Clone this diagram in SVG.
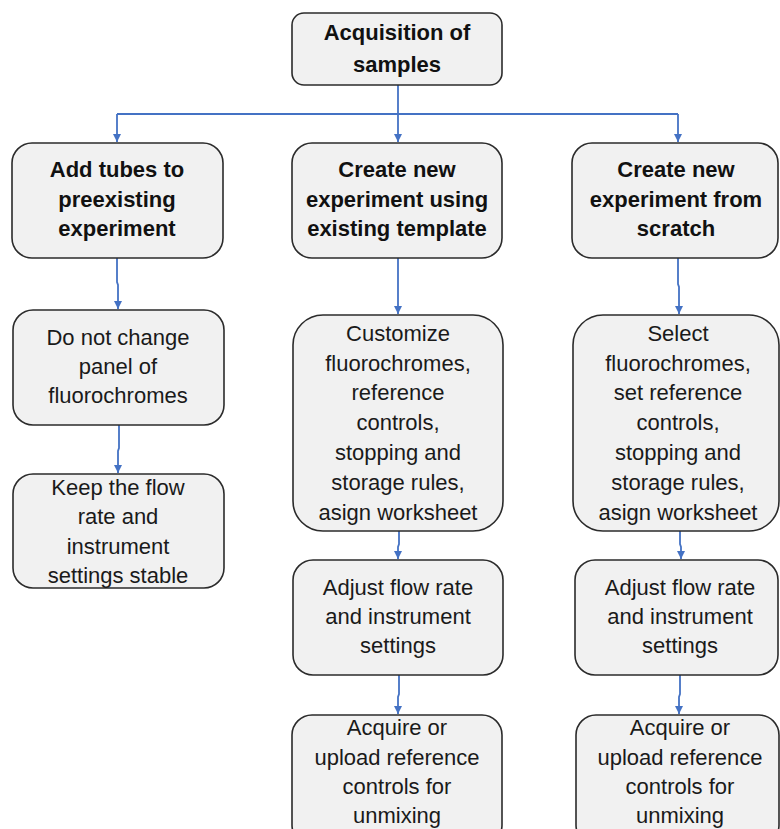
<svg xmlns="http://www.w3.org/2000/svg" width="780" height="829" viewBox="0 0 780 829">
<style>
.box{fill:#f1f1f1;stroke:#2b2b2b;stroke-width:1.6}
.t{font-family:"Liberation Sans",Arial,sans-serif;font-size:22px;fill:#1a1a1a;text-anchor:middle}
.b{font-weight:bold;fill:#111}
.c{fill:none;stroke:#4472C4;stroke-width:1.8}
</style>
<defs>
<marker id="ah" viewBox="0 0 10 10" refX="10" refY="5" markerWidth="8" markerHeight="8" markerUnits="userSpaceOnUse" orient="auto">
<path d="M0,0 L10,5 L0,10 z" fill="#4472C4"/>
</marker>
</defs>
<rect width="780" height="829" fill="#ffffff"/>

<g id="connectors">
<path class="c" d="M398,85 V114"/>
<path class="c" d="M117,114 H678"/>
<path class="c" d="M117,114 V142" marker-end="url(#ah)"/>
<path class="c" d="M398,114 V142" marker-end="url(#ah)"/>
<path class="c" d="M678,114 V142" marker-end="url(#ah)"/>
<path class="c" d="M117,258 V282 L118,285 V309" marker-end="url(#ah)"/>
<path class="c" d="M119,425 V448 L118,451 V473" marker-end="url(#ah)"/>
<path class="c" d="M398,258 V314" marker-end="url(#ah)"/>
<path class="c" d="M678,258 V284 L679,287 V314" marker-end="url(#ah)"/>
<path class="c" d="M399,531 V544 L398,547 V559" marker-end="url(#ah)"/>
<path class="c" d="M680,531 V544 L681,547 V559" marker-end="url(#ah)"/>
<path class="c" d="M399,675 V694 L398,697 V714" marker-end="url(#ah)"/>
<path class="c" d="M680,675 V694 L679,697 V714" marker-end="url(#ah)"/>
</g>

<g id="n-acquisition">
<rect class="box" x="292" y="13" width="210" height="72" rx="12"/>
<text class="t b" x="397" y="40" font-size="23">Acquisition of</text>
<text class="t b" x="397" y="72" font-size="23">samples</text>
</g>

<g id="n-add-tubes">
<rect class="box" x="12" y="143" width="211" height="115" rx="20"/>
<text class="t b" x="117" y="177">Add tubes to</text>
<text class="t b" x="117" y="207">preexisting</text>
<text class="t b" x="117" y="236">experiment</text>
</g>

<g id="n-template">
<rect class="box" x="292" y="143" width="210" height="115" rx="20"/>
<text class="t b" x="397" y="177">Create new</text>
<text class="t b" x="397" y="207">experiment using</text>
<text class="t b" x="397" y="236">existing template</text>
</g>

<g id="n-scratch">
<rect class="box" x="572" y="143" width="206" height="115" rx="20"/>
<text class="t b" x="676" y="177">Create new</text>
<text class="t b" x="676" y="207">experiment from</text>
<text class="t b" x="676" y="236">scratch</text>
</g>

<g id="n-do-not-change">
<rect class="box" x="13" y="310" width="211" height="115" rx="20"/>
<text class="t" x="118" y="345">Do not change</text>
<text class="t" x="118" y="374">panel of</text>
<text class="t" x="118" y="403">fluorochromes</text>
</g>

<g id="n-keep">
<rect class="box" x="13" y="474" width="211" height="114" rx="20"/>
<text class="t" x="118" y="495">Keep the flow</text>
<text class="t" x="118" y="524">rate and</text>
<text class="t" x="118" y="554">instrument</text>
<text class="t" x="118" y="583">settings stable</text>
</g>

<g id="n-customize">
<rect class="box" x="293" y="315" width="210" height="216" rx="30"/>
<text class="t" x="398" y="341">Customize</text>
<text class="t" x="398" y="371">fluorochromes,</text>
<text class="t" x="398" y="400">reference</text>
<text class="t" x="398" y="430">controls,</text>
<text class="t" x="398" y="460">stopping and</text>
<text class="t" x="398" y="490">storage rules,</text>
<text class="t" x="398" y="520">asign worksheet</text>
</g>

<g id="n-select">
<rect class="box" x="573" y="315" width="206" height="216" rx="30"/>
<text class="t" x="678" y="341">Select</text>
<text class="t" x="678" y="371">fluorochromes,</text>
<text class="t" x="678" y="400">set reference</text>
<text class="t" x="678" y="430">controls,</text>
<text class="t" x="678" y="460">stopping and</text>
<text class="t" x="678" y="490">storage rules,</text>
<text class="t" x="678" y="520">asign worksheet</text>
</g>

<g id="n-adjust-mid">
<rect class="box" x="293" y="560" width="210" height="115" rx="20"/>
<text class="t" x="398" y="595">Adjust flow rate</text>
<text class="t" x="398" y="624">and instrument</text>
<text class="t" x="398" y="653">settings</text>
</g>

<g id="n-adjust-right">
<rect class="box" x="575" y="560" width="203" height="115" rx="20"/>
<text class="t" x="680" y="595">Adjust flow rate</text>
<text class="t" x="680" y="624">and instrument</text>
<text class="t" x="680" y="653">settings</text>
</g>

<g id="n-acquire-mid">
<rect class="box" x="292" y="715" width="210" height="130" rx="20"/>
<text class="t" x="397" y="735">Acquire or</text>
<text class="t" x="397" y="765">upload reference</text>
<text class="t" x="397" y="794">controls for</text>
<text class="t" x="397" y="823">unmixing</text>
</g>

<g id="n-acquire-right">
<rect class="box" x="576" y="715" width="203" height="130" rx="20"/>
<text class="t" x="680" y="735">Acquire or</text>
<text class="t" x="680" y="765">upload reference</text>
<text class="t" x="680" y="794">controls for</text>
<text class="t" x="680" y="823">unmixing</text>
</g>
</svg>
